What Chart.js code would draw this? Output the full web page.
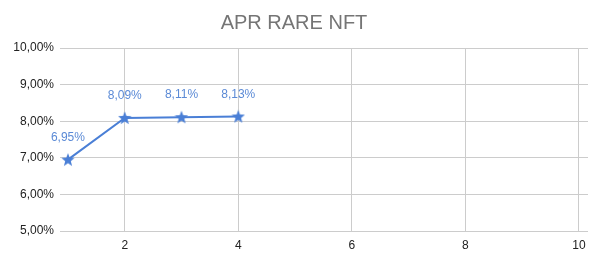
<!DOCTYPE html>
<html>
<head>
<meta charset="utf-8">
<script src="https://cdn.jsdelivr.net/npm/chart.js@4"></script>
<style>
  html, body { margin: 0; padding: 0; background: #fff; }
  #wrap { width: 600px; height: 262px; }
</style>
</head>
<body>
<div id="wrap"><canvas id="chart" width="600" height="262"></canvas></div>
<script>
const xValues = [1, 2, 3, 4];
const aprValues = [6.95, 8.09, 8.11, 8.13];
const xTicks = [2, 4, 6, 8, 10];
const yTicks = [5, 6, 7, 8, 9, 10];

const blue = '#4a7fd6';
const fontFam = '"Liberation Sans", Arial, sans-serif';

function fmtPct(v, digits) {
  return v.toFixed(digits).replace('.', ',') + '%';
}

// filled five point star for the markers
function makeStar(size, color) {
  const c = document.createElement('canvas');
  c.width = size;
  c.height = size;
  const g = c.getContext('2d');
  const cx = size / 2, cy = size / 2 + 0.5;
  const outer = size / 2, inner = outer * 0.42;
  g.beginPath();
  for (let i = 0; i < 10; i++) {
    const r = i % 2 === 0 ? outer : inner;
    const a = -Math.PI / 2 + i * Math.PI / 5;
    const px = cx + r * Math.cos(a), py = cy + r * Math.sin(a);
    if (i === 0) g.moveTo(px, py); else g.lineTo(px, py);
  }
  g.closePath();
  g.fillStyle = color;
  g.fill();
  return c;
}

const starImg = makeStar(14, blue);

const labelPlugin = {
  id: 'valueLabels',
  afterDatasetsDraw(chart) {
    const ctx = chart.ctx;
    const meta = chart.getDatasetMeta(0);
    ctx.save();
    ctx.font = '12px ' + fontFam;
    ctx.fillStyle = '#5b8ad6';
    ctx.textAlign = 'center';
    ctx.textBaseline = 'middle';
    meta.data.forEach((pt, i) => {
      ctx.fillText(fmtPct(aprValues[i], 2), pt.x, pt.y - 22);
    });
    ctx.restore();
  }
};

new Chart(document.getElementById('chart'), {
  type: 'line',
  data: {
    datasets: [{
      data: xValues.map((x, i) => ({ x: x, y: aprValues[i] })),
      borderColor: blue,
      backgroundColor: blue,
      borderWidth: 2,
      pointStyle: starImg,
      pointRadius: 7,
      tension: 0
    }]
  },
  options: {
    responsive: false,
    animation: false,
    layout: { padding: { top: 9, right: 12, left: 0, bottom: 0 } },
    plugins: {
      legend: { display: false },
      tooltip: { enabled: false },
      title: {
        display: true,
        text: 'APR RARE NFT',
        color: '#757575',
        font: { family: fontFam, size: 20, weight: 'normal' },
        padding: { top: 2, bottom: 13 }
      }
    },
    scales: {
      x: {
        type: 'linear',
        min: 0.86,
        max: 10.16,
        afterBuildTicks(axis) { axis.ticks = xTicks.map(v => ({ value: v })); },
        afterFit(axis) { axis.height = 31; },
        grid: { color: '#cccccc', drawTicks: false },
        border: { display: false },
        ticks: {
          color: '#222',
          padding: 7,
          maxRotation: 0,
          font: { family: fontFam, size: 12 }
        }
      },
      y: {
        min: 5,
        max: 10,
        afterBuildTicks(axis) { axis.ticks = yTicks.map(v => ({ value: v })); },
        afterFit(axis) { axis.width = 60; },
        grid: { color: '#cccccc', drawTicks: false },
        border: { display: false },
        ticks: {
          color: '#222',
          padding: 6,
          font: { family: fontFam, size: 12 },
          callback: v => fmtPct(v, 2)
        }
      }
    }
  },
  plugins: [labelPlugin]
});
</script>
</body>
</html>
